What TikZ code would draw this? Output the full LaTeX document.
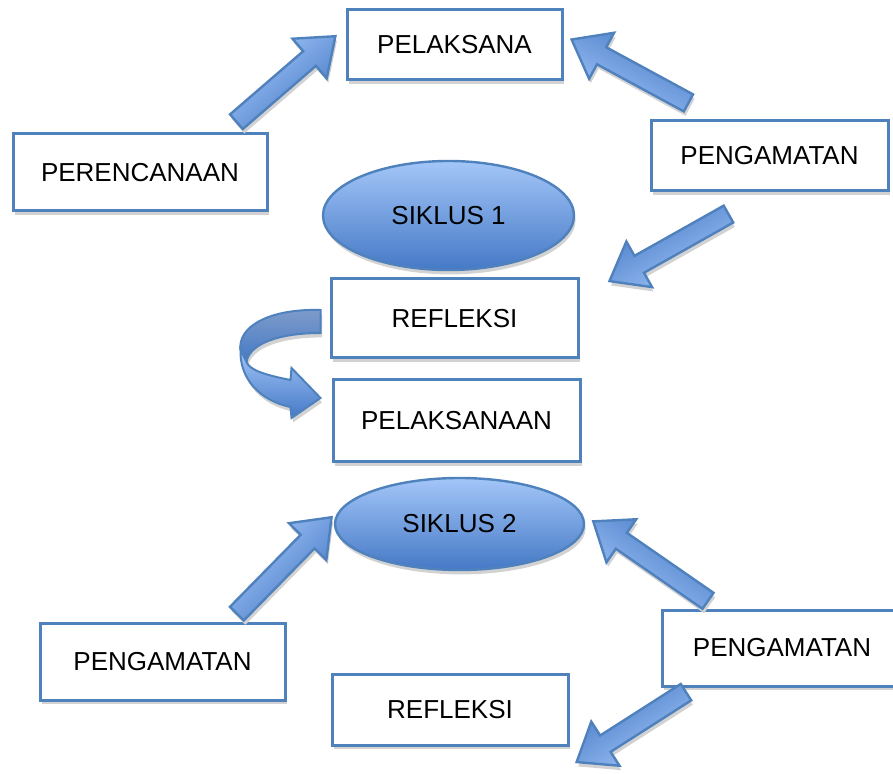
\documentclass[tikz,border=0pt]{standalone}
\usepackage{fontspec}
\setmainfont{Liberation Sans}
\usetikzlibrary{arrows.meta,positioning,calc,shapes.geometric,shapes.arrows,shadows}
\definecolor{frame}{HTML}{4F81BD}
\definecolor{lightfill}{HTML}{A3C6F8}
\definecolor{darkfill}{HTML}{4579C6}
\definecolor{backfill}{HTML}{7F9CC9}
\definecolor{shadowgray}{HTML}{D2D2D2}

% block arrow from tail #1 to tip #2
\newcommand{\blockarrow}[2]{%
 \path let \p1=($(#2)-(#1)$), \n1={atan2(\y1,\x1)}, \n2={veclen(\x1,\y1)} in
  node[barrow, anchor=tail, rotate=\n1, minimum height=\n2, shading angle=\n1] at (#1) {};}

\begin{document}
\begin{tikzpicture}[x=0.5pt, y=-0.5pt, every node/.style={font=\fontsize{13}{15}\selectfont},
 softshadow/.style={drop shadow={shadow xshift=0.8pt, shadow yshift=-2.2pt, fill=shadowgray, opacity=1}},
 box/.style={draw=frame, line width=1.5pt, fill=white, inner sep=0pt, softshadow},
 siklus/.style={ellipse, draw=frame, line width=1.2pt, top color=lightfill, bottom color=darkfill, inner sep=0pt, softshadow},
 barrow/.style={single arrow, draw=frame, line width=1.2pt, top color=lightfill, bottom color=darkfill,
  inner xsep=0pt, inner ysep=4.25pt, minimum width=0pt, single arrow head extend=8.25pt,
  single arrow tip angle=75, softshadow}]
 \useasboundingbox (0,0) rectangle (893,774);

 \node[box, minimum width=107.5pt, minimum height=35pt] (pel) at (454.5,45) {PELAKSANA};
 \node[box, minimum width=127pt, minimum height=38.5pt] (peren) at (140,172.5) {PERENCANAAN};
 \node[box, minimum width=118.5pt, minimum height=35pt] (amat1) at (769.5,156) {PENGAMATAN};
 \node[siklus, minimum width=125.5pt, minimum height=54.5pt] (siklus1) at (448.5,215.5) {SIKLUS 1};
 \node[box, minimum width=123.5pt, minimum height=39.5pt] (refl1) at (454.5,318.5) {REFLEKSI};
 \node[box, minimum width=123.5pt, minimum height=41pt] (pelak) at (456.5,421) {PELAKSANAAN};
 \node[siklus, minimum width=124.5pt, minimum height=46pt] (siklus2) at (459.5,524) {SIKLUS 2};
 \node[box, minimum width=122.5pt, minimum height=38.5pt] (amat2) at (162.5,661.5) {PENGAMATAN};
 \node[box, minimum width=120pt, minimum height=38pt] (amat3) at (782,648) {PENGAMATAN};
 \node[box, minimum width=118pt, minimum height=35.5pt] (refl2) at (450,709.5) {REFLEKSI};

 \coordinate (t1) at ([shift={(-33,-10)}]peren.north east);
 \coordinate (h1) at ([shift={(-11,-8)}]pel.west);
 \coordinate (t2) at ([shift={(-80,-16)}]amat1.north);
 \coordinate (h2) at ([shift={(9,-5)}]pel.east);
 \coordinate (t3) at ([shift={(-40,21)}]amat1.south);
 \coordinate (h3) at ([shift={(31,3)}]refl1.north east);
 \coordinate (t4) at ([shift={(73.5,-7)}]amat2.north);
 \coordinate (h4) at ([shift={(-3,-6)}]siklus2.west);
 \coordinate (t5) at ([shift={(-73,-7)}]amat3.north);
 \coordinate (h5) at ([shift={(9,-2)}]siklus2.east);
 \coordinate (t6) at ([shift={(-95,4)}]amat3.south);
 \coordinate (h6) at ([shift={(8,15)}]refl2.south east);
 \blockarrow{t1}{h1}
 \blockarrow{t2}{h2}
 \blockarrow{t3}{h3}
 \blockarrow{t4}{h4}
 \blockarrow{t5}{h5}
 \blockarrow{t6}{h6}

 % curved arrow from REFLEKSI round to PELAKSANAAN
 \begin{scope}[shift={(refl1.west)}, draw=frame, line width=1pt]
  \draw[top color=backfill, bottom color=darkfill, softshadow] (-9,-8.5) .. controls (-60,-10) and (-92,8) .. (-89,31.5)
   -- (-83,43.5) .. controls (-80,25) and (-50,14.5) .. (-9,14.5) -- cycle;
  \draw[top color=lightfill, bottom color=darkfill, softshadow] (-89,31.5) .. controls (-90,60) and (-70,82) .. (-39,88.5)
   -- (-38,99.5) -- (-9,79.5) -- (-38,49.5) -- (-39,61.5) .. controls (-62,57) and (-80,52) .. (-83,43.5) -- cycle;
 \end{scope}
\end{tikzpicture}
\end{document}
